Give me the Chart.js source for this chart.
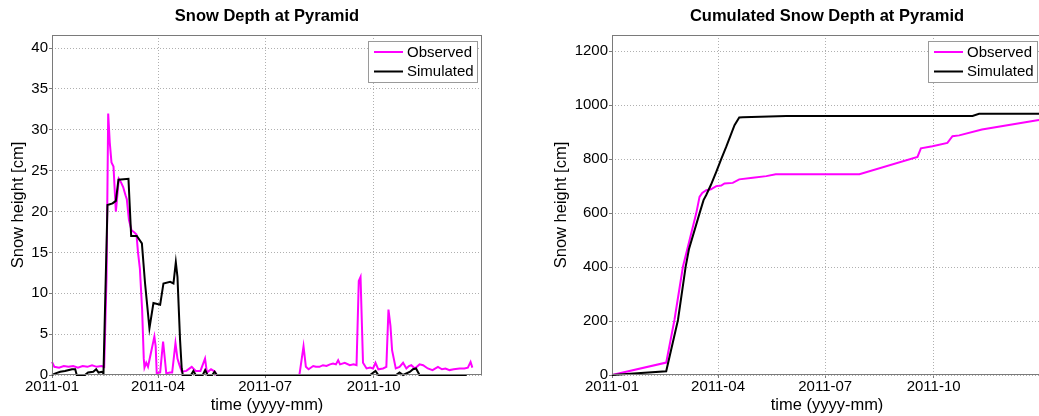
<!DOCTYPE html>
<html>
<head>
<meta charset="utf-8">
<title>Snow Depth at Pyramid</title>
<script src="https://cdn.jsdelivr.net/npm/chart.js@4/dist/chart.umd.min.js"></script>
<style>
  html, body { margin: 0; padding: 0; background: #fff; overflow: hidden; width: 1039px; height: 416px; }
  #left  { position: absolute; left: 0;     top: 0; }
  #right { position: absolute; left: 520px; top: 0; }
</style>
</head>
<body>
<canvas id="left" width="520" height="416"></canvas>
<canvas id="right" width="526" height="416"></canvas>
<script>
// Time axis: days since 2011-01-01
const tickDays   = [0, 90, 181, 273];
const tickLabels = ['2011-01', '2011-04', '2011-07', '2011-10'];

// Daily snow depth [cm] - observed
const obsDay   = [0, 2, 6, 10, 14, 18, 22, 26, 30, 34, 38, 42, 44.3, 46.3, 47.7, 49, 50.5, 52.2, 54.2, 56.7, 58.5, 60.4, 62.4, 63.5, 65.3, 67.5, 69.5, 71.7, 73, 74.6, 76.5, 77.9, 78.5, 80, 81.5, 84.4, 86.9, 88, 88.9, 91.8, 94.3, 97, 100, 102, 104.8, 106.5, 108, 110.1, 114, 118.6, 122, 126, 129.9, 131.5, 135, 138.4, 139.5,
  150, 180, 210, 211, 213.5, 215.5, 217.8, 221.7, 224, 227, 230, 233, 236, 238.6, 241, 242.9, 244.5, 248.5, 252.8, 256, 258.5, 260.4, 261.9, 264, 267, 270, 272.5, 274.6, 277, 281, 283.8, 285.6, 287.3, 288.7, 291.8, 295, 298, 300.8, 303, 305, 308, 312, 315, 319, 323, 327.6, 331, 334, 337.5, 341, 346, 350, 353, 355.3, 356.8];
const obsDepth = [1.6, 1.0, 0.9, 1.1, 1.0, 1.1, 0.9, 1.1, 1.0, 1.2, 1.0, 1.1, 1.0, 12.0, 32.0, 28.5, 26.0, 25.5, 20.0, 24.0, 23.6, 23.0, 22.0, 21.5, 19.0, 17.7, 17.5, 17.2, 15.0, 13.0, 8.0, 2.0, 0.9, 1.5, 1.0, 3.0, 4.7, 3.5, 0.2, 0.3, 4.1, 0.2, 0.3, 0.3, 3.9, 2.0, 1.3, 0.4, 0.5, 1.0, 0.5, 0.5, 2.0, 0.3, 0.7, 0.4, 0,
  0, 0, 0, 1.0, 3.5, 1.0, 0.7, 1.1, 1.0, 1.0, 1.2, 1.1, 1.3, 1.4, 1.3, 1.8, 1.3, 1.5, 1.2, 1.3, 1.2, 11.5, 12.0, 1.5, 0.8, 0.9, 0.8, 1.5, 0.7, 0.8, 1.0, 8.0, 6.0, 3.0, 0.8, 1.0, 1.5, 0.8, 1.1, 1.2, 0.8, 1.3, 1.2, 0.8, 0.6, 1.0, 0.7, 0.8, 0.6, 0.7, 0.8, 0.8, 0.9, 1.6, 0.9];

// Daily snow depth [cm] - simulated
const simDay   = [0, 3, 7, 11, 17, 19.7, 21, 28, 30.6, 35, 37.5, 39.5, 42.3, 43.7, 47.1, 51.4, 54.2, 56.4, 64.9, 67.2, 72, 76.3, 79, 80.9, 82.7, 86.1, 91.8, 94.6, 100.3, 103.1, 105.1, 106.5, 108.7, 110.1, 111, 118, 120, 122, 128, 130, 132, 136, 138, 140, 143,
  270, 274.6, 277, 292, 295, 298, 304, 306.4, 309, 312, 352];
const simDepth = [0, 0.2, 0.4, 0.5, 0.7, 0.7, 0, 0, 0.3, 0.4, 0.7, 0.3, 0.4, 0.2, 20.8, 21.0, 21.3, 23.9, 24.0, 17.0, 17.0, 16.1, 11.2, 8.4, 5.7, 8.8, 8.6, 11.2, 11.4, 11.2, 13.8, 12.0, 4.3, 0.8, 0, 0, 0.5, 0, 0, 0.6, 0, 0, 0.4, 0, 0,
  0, 0.5, 0, 0, 0.3, 0, 0.4, 0.7, 0.8, 0, 0];

// Cumulated snow depth [cm] - observed
const cumObsDay = [0, 46, 53, 60.2, 71.5, 74.3, 76.6, 80, 84, 88.5, 92.7, 95.5, 102.5, 108, 119.5, 131, 139, 210, 259.3, 262.2, 272, 284.7, 289, 294.7, 314, 361, 365];
const cumObs    = [0, 46, 204, 401, 599, 660, 675, 685, 688, 700, 702, 710, 712, 725, 731, 737, 744, 744, 808, 840, 848, 860, 885, 888, 910, 944, 946];

// Cumulated snow depth [cm] - simulated
const cumSimDay = [0, 46, 56, 62.5, 65.3, 74.3, 77.7, 80, 84, 88.5, 92.7, 97, 104, 108, 111, 148, 306, 311.6, 365];
const cumSim    = [0, 14, 204, 401, 466, 599, 648, 667, 705, 753, 800, 846, 926, 954, 955, 960, 960, 968, 968];

const pts = (xs, ys) => xs.map((x, i) => ({ x: x, y: ys[i] }));

const FONT = "'Liberation Sans', Arial, Helvetica, sans-serif";
const FRAME = '#7a7a7a';
const GRID = '#b0b0b0';

// box around the axes, drawn on all four sides
const framePlugin = {
  id: 'frame',
  afterDatasetsDraw(chart) {
    const a = chart.chartArea, ctx = chart.ctx;
    ctx.save();
    ctx.strokeStyle = FRAME;
    ctx.lineWidth = 1;
    ctx.strokeRect(Math.round(a.left) + 0.5, Math.round(a.top) + 0.5,
                   Math.round(a.right - a.left) - 1, Math.round(a.bottom - a.top) - 1);
    ctx.restore();
  }
};

// boxed legend inside the top-right corner of the axes
const boxLegend = {
  id: 'boxLegend',
  afterDraw(chart) {
    const a = chart.chartArea, ctx = chart.ctx;
    const w = 110, h = 42;
    const x = Math.round(a.right - 4 - w), y = Math.round(a.top + 6);
    ctx.save();
    ctx.fillStyle = '#fff';
    ctx.fillRect(x, y, w, h);
    ctx.strokeStyle = '#9a9a9a';
    ctx.lineWidth = 1;
    ctx.strokeRect(x + 0.5, y + 0.5, w - 1, h - 1);
    ctx.font = '15px ' + FONT;
    ctx.textBaseline = 'middle';
    ctx.textAlign = 'left';
    chart.data.datasets.forEach((ds, i) => {
      const ly = y + 11 + i * 19.5;
      ctx.strokeStyle = ds.borderColor;
      ctx.lineWidth = 2;
      ctx.beginPath();
      ctx.moveTo(x + 6, ly);
      ctx.lineTo(x + 35, ly);
      ctx.stroke();
      ctx.fillStyle = '#000';
      ctx.fillText(ds.label, x + 39, ly + 0.5);
    });
    ctx.restore();
  }
};

function makeChart(canvasId, title, obs, sim, yMax, yStep, yAxisWidth, yTitlePad, rightPad) {
  return new Chart(document.getElementById(canvasId), {
    type: 'line',
    data: {
      datasets: [
        { label: 'Observed',  data: obs, borderColor: '#ff00ff', borderWidth: 2, pointRadius: 0, tension: 0, fill: false, order: 2, clip: 4 },
        { label: 'Simulated', data: sim, borderColor: '#000000', borderWidth: 2, pointRadius: 0, tension: 0, fill: false, order: 1, clip: 4 }
      ]
    },
    options: {
      responsive: false,
      animation: false,
      events: [],
      layout: { padding: { left: 0, right: rightPad, top: 0, bottom: 0 } },
      plugins: {
        legend: { display: false },
        tooltip: { enabled: false },
        title: {
          display: true, text: title, color: '#000', fullSize: false,
          font: { family: FONT, size: 16.5, weight: 'bold' },
          padding: { top: 6.8, bottom: 8.4 }
        }
      },
      scales: {
        x: {
          type: 'linear', min: 0, max: 365,
          afterBuildTicks: s => { s.ticks = tickDays.map(v => ({ value: v })); },
          afterFit: s => { s.height = 41; },
          ticks: {
            autoSkip: false, maxRotation: 0, color: '#000', padding: 0,
            font: { family: FONT, size: 15 },
            callback: v => tickLabels[tickDays.indexOf(v)]
          },
          grid: { color: GRID, lineWidth: 1, drawTicks: true, tickLength: 3, tickColor: FRAME },
          border: { display: false, dash: [1, 2] },
          title: {
            display: true, text: 'time (yyyy-mm)', color: '#000',
            font: { family: FONT, size: 16.5 }, padding: { top: 0, bottom: 1 }
          }
        },
        y: {
          min: 0, max: yMax,
          afterFit: s => { s.width = yAxisWidth; },
          ticks: {
            stepSize: yStep, includeBounds: false, color: '#000', padding: 1,
            font: { family: FONT, size: 15 },
            callback: v => String(v)
          },
          grid: { color: GRID, lineWidth: 1, drawTicks: true, tickLength: 3, tickColor: FRAME },
          border: { display: false, dash: [1, 2] },
          title: {
            display: true, text: 'Snow height [cm]', color: '#000',
            font: { family: FONT, size: 16.5 }, padding: { top: yTitlePad, bottom: 0 }
          }
        }
      }
    },
    plugins: [framePlugin, boxLegend]
  });
}

makeChart('left', 'Snow Depth at Pyramid',
  pts(obsDay, obsDepth), pts(simDay, simDepth), 41.6, 5, 52, 8.4, 38);

makeChart('right', 'Cumulated Snow Depth at Pyramid',
  pts(cumObsDay, cumObs), pts(cumSimDay, cumSim), 1260, 200, 92, 31.8, 4);
</script>
</body>
</html>
